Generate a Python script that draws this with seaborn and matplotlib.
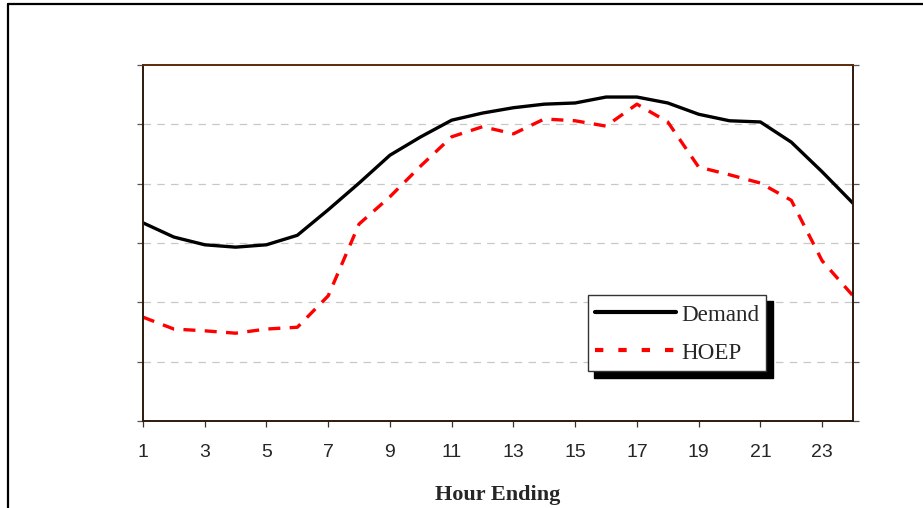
import matplotlib
matplotlib.use("Agg")
import matplotlib.pyplot as plt
from matplotlib.lines import Line2D
import seaborn as sns
import pandas as pd

# hourly profile, values (no scale shown, 0-6 grid units)
hours = list(range(1, 25))
demand = [3.34, 3.10, 2.97, 2.93, 2.97, 3.13, 3.56, 4.01, 4.48, 4.79, 5.07, 5.19,
          5.28, 5.34, 5.36, 5.46, 5.46, 5.36, 5.17, 5.06, 5.04, 4.70, 4.20, 3.67]
hoep = [1.75, 1.55, 1.52, 1.48, 1.55, 1.58, 2.11, 3.32, 3.78, 4.30, 4.79, 4.96,
        4.84, 5.09, 5.06, 4.97, 5.34, 5.04, 4.28, 4.15, 4.01, 3.72, 2.70, 2.11]
xtick_labels = [str(h) for h in range(1, 24, 2)]

df = pd.DataFrame({"hour": hours, "Demand": demand, "HOEP": hoep})

sns.set_style("white")
plt.rcParams["font.family"] = ["Liberation Sans", "DejaVu Sans"]

fig = plt.figure(figsize=(9.23, 5.08), dpi=100)
ax = fig.add_axes([143 / 923, 87 / 508, 710 / 923, 356 / 508])

# outer chart-area frame (cropped on the right/bottom in the original)
fig.add_artist(Line2D([8 / 923, 8 / 923], [0, 1 - 4 / 508], transform=fig.transFigure,
                      color="black", lw=1.6))
fig.add_artist(Line2D([8 / 923, 1], [1 - 4 / 508, 1 - 4 / 508], transform=fig.transFigure,
                      color="black", lw=1.6))

for y in range(1, 6):
    ax.axhline(y, color="#c8c8c8", lw=0.9, dashes=(6, 5), zorder=0)

sns.lineplot(data=df, x="hour", y="Demand", ax=ax, color="black", lw=2.4, label="Demand")
sns.lineplot(data=df, x="hour", y="HOEP", ax=ax, color="#ff0000", lw=2.4, label="HOEP")
ax.lines[-1].set_dashes((3.6, 2.8))

ax.set_xlim(1, 24)
ax.set_ylim(0, 6)
ax.set_xticks(range(1, 24, 2))
ax.set_xticklabels(xtick_labels, fontsize=14)
ax.set_yticks(range(0, 7))
ax.set_yticklabels([])
ax.tick_params(axis="x", direction="out", length=4.5, width=0.9, color="#333333", pad=12,
               bottom=True)
ax.tick_params(axis="y", direction="out", length=4.5, width=0.9, color="#555555",
               left=True, right=True)

for side in ["left", "right", "bottom"]:
    ax.spines[side].set_color("#2e1a0c")
    ax.spines[side].set_linewidth(1.4)
ax.spines["top"].set_color("#5c2c0a")
ax.spines["top"].set_linewidth(1.4)

ax.set_ylabel("")
ax.set_xlabel("Hour Ending", fontsize=16, fontweight="bold",
              family=["Liberation Serif", "DejaVu Serif"], labelpad=17)

leg = ax.legend(loc="upper left", bbox_to_anchor=((588 - 143) / 710, (421 - 295) / 356),
                frameon=True, fancybox=False, borderpad=0.3, labelspacing=0.6,
                handlelength=3.5, handleheight=1.15, handletextpad=0.25, borderaxespad=0,
                prop={"family": ["Liberation Serif", "DejaVu Serif"], "size": 16.6},
                shadow={"ox": 4.6, "oy": -4.6, "color": "black", "alpha": 1})
leg.get_frame().set_edgecolor("#333333")
leg.get_frame().set_linewidth(1.0)
leg.get_lines()[0].set_linewidth(3.0)
leg.get_lines()[1].set_linewidth(3.0)
leg.get_lines()[1].set_dashes((2.0, 3.6))

fig.savefig("out.png", dpi=100)
